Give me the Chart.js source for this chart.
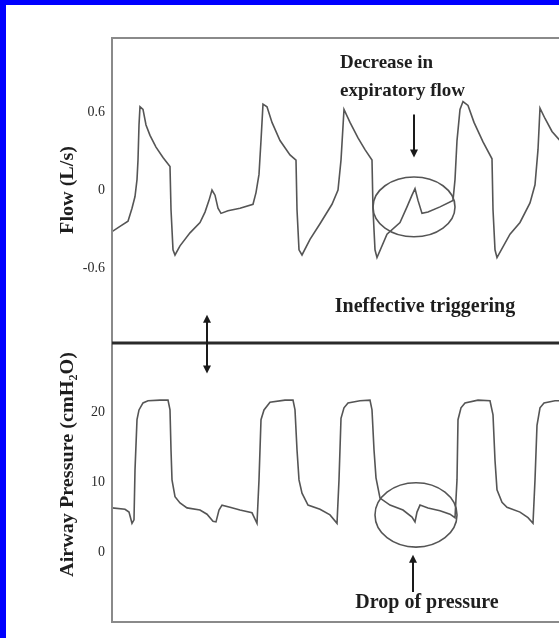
<!DOCTYPE html>
<html>
<head>
<meta charset="utf-8">
<script src="https://cdn.jsdelivr.net/npm/chart.js@4/dist/chart.umd.min.js"></script>
<style>
  html, body { margin: 0; padding: 0; background: #fff; overflow: hidden; }
  #wrap { position: relative; width: 559px; height: 638px; overflow: hidden; background: #fff; }
  #c { position: absolute; left: 0; top: 0; }
  .bl { position: absolute; background: #0000ff; }
</style>
</head>
<body>
<div id="wrap">
  <canvas id="c" width="620" height="638"></canvas>
  <div class="bl" style="left:0;top:0;width:6px;height:638px"></div>
  <div class="bl" style="left:0;top:0;width:559px;height:5px"></div>
</div>
<script>
// ---- data (time in s, flow in L/s, pressure in cmH2O) ----
const flowTime = [0,0.16,0.32,0.4,0.46,0.5,0.52,0.54,0.56,0.62,0.68,0.76,0.88,1.02,1.16,1.18,1.22,1.26,1.36,1.56,1.76,1.86,1.94,2.0,2.06,2.12,2.18,2.32,2.56,2.82,2.88,2.94,2.98,3.02,3.1,3.2,3.36,3.56,3.68,3.7,3.74,3.8,3.96,4.16,4.4,4.52,4.58,4.64,4.76,4.92,5.06,5.2,5.22,5.26,5.3,5.5,5.76,5.9,6.0,6.06,6.12,6.2,6.32,6.56,6.82,6.86,6.9,6.96,7.02,7.12,7.24,7.42,7.6,7.62,7.66,7.7,7.96,8.16,8.36,8.46,8.52,8.56,8.66,8.8,8.96,9.26];
const flowValues = [-0.32,-0.28,-0.24,-0.14,-0.05,0.08,0.23,0.5,0.64,0.62,0.5,0.42,0.33,0.25,0.18,-0.15,-0.46,-0.5,-0.43,-0.33,-0.25,-0.17,-0.08,0,-0.04,-0.14,-0.18,-0.16,-0.14,-0.11,-0.02,0.12,0.38,0.66,0.64,0.52,0.38,0.27,0.23,-0.15,-0.46,-0.5,-0.38,-0.26,-0.11,0,0.23,0.62,0.52,0.4,0.31,0.23,-0.15,-0.46,-0.52,-0.34,-0.25,-0.13,-0.04,0.01,-0.08,-0.18,-0.17,-0.13,-0.08,0.08,0.38,0.62,0.68,0.65,0.52,0.37,0.24,-0.15,-0.46,-0.52,-0.34,-0.25,-0.1,0.04,0.31,0.63,0.55,0.45,0.38,0.31];
const pressureTime = [0,0.26,0.34,0.4,0.44,0.46,0.5,0.54,0.62,0.72,0.96,1.12,1.16,1.18,1.2,1.26,1.36,1.5,1.76,1.9,2.02,2.08,2.14,2.2,2.36,2.56,2.8,2.9,2.94,2.98,3.04,3.16,3.46,3.62,3.66,3.7,3.74,3.8,3.92,4.16,4.36,4.5,4.54,4.58,4.64,4.72,4.96,5.16,5.2,5.24,5.28,5.36,5.56,5.82,6.0,6.06,6.1,6.16,6.32,6.56,6.76,6.86,6.9,6.92,6.98,7.06,7.32,7.56,7.62,7.66,7.7,7.8,7.9,8.16,8.32,8.42,8.46,8.5,8.56,8.64,8.86,9.26];
const pressureValues = [6.3,6.1,5.7,4.1,4.6,11.7,18.9,20.3,21.3,21.6,21.7,21.7,20.3,14.6,10.3,7.9,7.0,6.3,6.0,5.4,4.4,4.3,6.0,6.7,6.4,6.0,5.6,4.1,10.3,18.9,20.3,21.4,21.7,21.7,20.3,14.6,10.3,8.4,6.7,6.1,5.3,4.1,10.3,19.1,20.6,21.3,21.6,21.7,20.3,14.6,10.6,7.7,6.7,6.0,5.0,4.3,5.7,6.7,6.3,5.9,5.4,4.9,10.3,18.9,20.6,21.3,21.7,21.6,19.6,13.1,8.9,7.1,6.4,5.7,4.9,4.1,10.3,18.1,20.6,21.3,21.6,21.6];
const flowTicks = [-0.6, 0, 0.6];
const pressureTicks = [0, 10, 20];
const flowTitle = 'Flow (L/s)';
const pressureTitle = 'Airway Pressure (cmH\u2082O)';
const notes = {
  flowTop: ['Decrease in', 'expiratory flow'],
  middle: 'Ineffective triggering',
  pressureBottom: 'Drop of pressure'
};

const SERIF = '"Liberation Serif", "DejaVu Serif", serif';

const annot = {
  id: 'annot',
  afterDatasetsDraw(chart) {
    const ctx = chart.ctx, x = chart.scales.x, y1 = chart.scales.y1, y2 = chart.scales.y2;
    const a = chart.chartArea;
    ctx.save();
    // frame
    ctx.strokeStyle = '#8a8a8a'; ctx.lineWidth = 2;
    ctx.strokeRect(a.left, a.top, a.right - a.left, a.bottom - a.top);
    // middle divider
    ctx.strokeStyle = '#2a2a2a'; ctx.lineWidth = 3;
    ctx.beginPath(); ctx.moveTo(a.left, y1.bottom); ctx.lineTo(a.right, y1.bottom); ctx.stroke();

    function arrowHead(px, py, dir) {
      ctx.beginPath();
      ctx.moveTo(px, py);
      ctx.lineTo(px - 4, py - dir * 8);
      ctx.lineTo(px + 4, py - dir * 8);
      ctx.closePath(); ctx.fill();
    }
    ctx.fillStyle = '#1a1a1a'; ctx.strokeStyle = '#1a1a1a'; ctx.lineWidth = 2;
    // double arrow across divider
    const dx = x.getPixelForValue(1.9);
    const dTop = y1.getPixelForValue(-0.96), dBot = y2.getPixelForValue(25.5);
    ctx.beginPath(); ctx.moveTo(dx, dTop + 4); ctx.lineTo(dx, dBot - 4); ctx.stroke();
    arrowHead(dx, dTop, -1); arrowHead(dx, dBot, 1);
    // down arrow (flow)
    const ax = x.getPixelForValue(6.04);
    const aTop = y1.getPixelForValue(0.58), aBot = y1.getPixelForValue(0.25);
    ctx.beginPath(); ctx.moveTo(ax, aTop); ctx.lineTo(ax, aBot - 4); ctx.stroke();
    arrowHead(ax, aBot, 1);
    // up arrow (pressure)
    const bx = x.getPixelForValue(6.02);
    const bBot = y2.getPixelForValue(-5.7), bTop = y2.getPixelForValue(-0.4);
    ctx.beginPath(); ctx.moveTo(bx, bBot); ctx.lineTo(bx, bTop + 4); ctx.stroke();
    arrowHead(bx, bTop, -1);

    // ellipses
    ctx.strokeStyle = '#555'; ctx.lineWidth = 1.6;
    function ell(cx, cy, sy, rxv, ryv) {
      const px = x.getPixelForValue(cx), py = sy.getPixelForValue(cy);
      const rx = Math.abs(x.getPixelForValue(cx + rxv) - px);
      const ry = Math.abs(sy.getPixelForValue(cy + ryv) - py);
      ctx.beginPath(); ctx.ellipse(px, py, rx, ry, 0, 0, Math.PI * 2); ctx.stroke();
    }
    ell(6.04, -0.13, y1, 0.82, 0.23);
    ell(6.08, 5.3, y2, 0.82, 4.6);

    // texts
    ctx.fillStyle = '#1e1e1e';
    ctx.font = 'bold 19px ' + SERIF;
    ctx.textBaseline = 'alphabetic';
    ctx.textAlign = 'left';
    const tx = x.getPixelForValue(4.56);
    ctx.fillText(notes.flowTop[0], tx, y1.getPixelForValue(0.94));
    ctx.fillText(notes.flowTop[1], tx, y1.getPixelForValue(0.72));
    ctx.textAlign = 'center';
    ctx.font = 'bold 20px ' + SERIF;
    ctx.fillText(notes.middle, x.getPixelForValue(6.26), y1.getPixelForValue(-0.94));
    ctx.fillText(notes.pressureBottom, x.getPixelForValue(6.3), y2.getPixelForValue(-8.0));

    // axis titles (slightly stretched along their length, as in the scan)
    ctx.font = 'bold 18px ' + SERIF;
    ctx.textBaseline = 'middle';
    function vtitle(t, cx, cy) {
      ctx.save(); ctx.translate(cx, cy); ctx.rotate(-Math.PI / 2); ctx.scale(1.12, 1);
      ctx.fillText(t, 0, 0); ctx.restore();
    }
    vtitle(flowTitle, 68, y1.getPixelForValue(0));
    vtitle(pressureTitle, 68, y2.getPixelForValue(12.5));
    ctx.restore();
  }
};

function fitWidth(scale) { scale.width = 112; }

new Chart(document.getElementById('c'), {
  type: 'line',
  data: {
    datasets: [
      { label: 'Flow', data: flowTime.map((t, i) => ({ x: t, y: flowValues[i] })), yAxisID: 'y1',
        borderColor: '#555', borderWidth: 1.6, pointRadius: 0, tension: 0, fill: false },
      { label: 'Pressure', data: pressureTime.map((t, i) => ({ x: t, y: pressureValues[i] })), yAxisID: 'y2',
        borderColor: '#555', borderWidth: 1.6, pointRadius: 0, tension: 0, fill: false }
    ]
  },
  options: {
    responsive: false, animation: false, devicePixelRatio: 1,
    layout: { padding: { left: 0, right: 13, top: 38, bottom: 16 } },
    plugins: { legend: { display: false }, tooltip: { enabled: false } },
    scales: {
      x: { type: 'linear', min: 0, max: 9.9, display: false },
      y2: {
        type: 'linear', position: 'left', stack: 'panels', stackWeight: 279,
        min: -10, max: 29.86, afterFit: fitWidth,
        afterBuildTicks: s => { s.ticks = pressureTicks.map(v => ({ value: v })); },
        grid: { display: false, drawTicks: false }, border: { display: false },
        ticks: { padding: 7, color: '#2a2a2a', font: { family: SERIF, size: 14 },
                 callback: v => String(v) }
      },
      y1: {
        type: 'linear', position: 'left', stack: 'panels', stackWeight: 305,
        min: -1.177, max: 1.169, afterFit: fitWidth,
        afterBuildTicks: s => { s.ticks = flowTicks.map(v => ({ value: v })); },
        grid: { display: false, drawTicks: false }, border: { display: false },
        ticks: { padding: 7, color: '#2a2a2a', font: { family: SERIF, size: 14 },
                 callback: v => String(v) }
      }
    }
  },
  plugins: [annot]
});
</script>
</body>
</html>
